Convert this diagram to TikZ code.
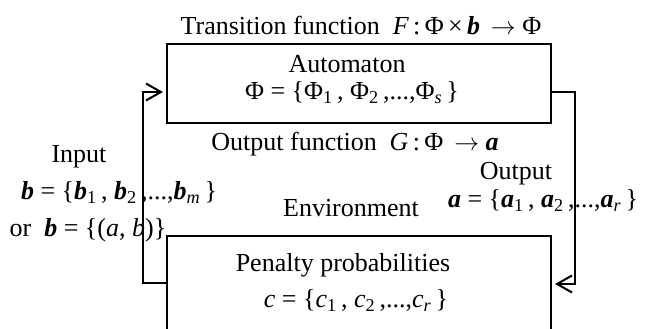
\documentclass[tikz,border=0pt]{standalone}
\usepackage{fontspec}
\setmainfont{Liberation Serif}
\usetikzlibrary{arrows.meta,positioning}
\newcommand{\bb}{\textbf{\textit{b}}}
\newcommand{\ba}{\textbf{\textit{a}}}
\newcommand{\sub}[1]{\textsubscript{#1}\,}
\tikzset{
	>={Straight Barb[length=15pt,width=17pt]},
	block/.style={
		draw,
		line width=2pt,
		minimum width=384pt,
		inner sep=0pt,
		outer sep=0pt
	},
	feedback/.style={
		->,
		line width=2pt,
		shorten >=4pt
	},
	lbl/.style={
		anchor=base,
		inner sep=0pt,
		font=\fontsize{26}{31}\selectfont
	}
}

\begin{document}
\begin{tikzpicture}[x=1pt,y=1pt]
	\useasboundingbox (0,0) rectangle (650,329);
	\clip (0,0) rectangle (650,329);
	
	%--------------------
	% Boxes
	%--------------------
	\node[block, minimum height=79pt]              (automaton)   at (359,245.5) {};
	\node[block, minimum height=130pt, anchor=north] (environment) at (359,93) {};
	
	%--------------------
	% Automaton
	%--------------------
	\node[lbl] (transition) at (361,294) {Transition function\ \ \textit{F}\,:\,Φ\,×\,\bb\ \,$\rightarrow$\ Φ};
	\node[lbl] (autoname)   at (347,256) {Automaton};
	\node[lbl] (autostates) at (352,229) {Φ = \{Φ\sub{1}, Φ\sub{2},...,Φ\sub{\textit{s}}\}};
	\node[lbl] (outfunc)    at (355,178) {Output function\ \ \textit{G}\,:\,Φ\ \,$\rightarrow$\ \ba};
	
	%--------------------
	% Input / output
	%--------------------
	\node[lbl] (inname)  at (79,166)  {Input};
	\node[lbl] (inset)   at (119,129) {\bb\ = \{\bb\sub{1}, \bb\sub{2},...,\bb\sub{\textit{m}}\}};
	\node[lbl] (inpair)  at (88,92)   {or\ \ \bb\ = \{(\textit{a}, \textit{b})\}};
	\node[lbl] (outname) at (516,149) {Output};
	\node[lbl] (outset)  at (543,121) {\ba\ = \{\ba\sub{1}, \ba\sub{2},...,\ba\sub{\textit{r}}\}};
	
	%--------------------
	% Environment
	%--------------------
	\node[lbl] (envname)   at (351,112) {Environment};
	\node[lbl] (penalty)   at (343,57)  {Penalty probabilities};
	\node[lbl] (penaltyset) at (356,21) {\textit{c} = \{\textit{c}\sub{1}, \textit{c}\sub{2},...,\textit{c}\sub{\textit{r}}\}};
	
	%--------------------
	% Feedback loop
	%--------------------
	\coordinate (inbend)  at (143,46);
	\coordinate (inturn)  at (143,237);
	\coordinate (outturn) at (575,237);
	\coordinate (outbend) at (575,45);
	
	\draw[feedback] (environment.west |- inbend) -- (inbend) -- (inturn) -- (automaton.west |- inturn);
	\draw[feedback] (automaton.east |- outturn) -- (outturn) -- (outbend) -- (environment.east |- outbend);
	
\end{tikzpicture}
\end{document}
